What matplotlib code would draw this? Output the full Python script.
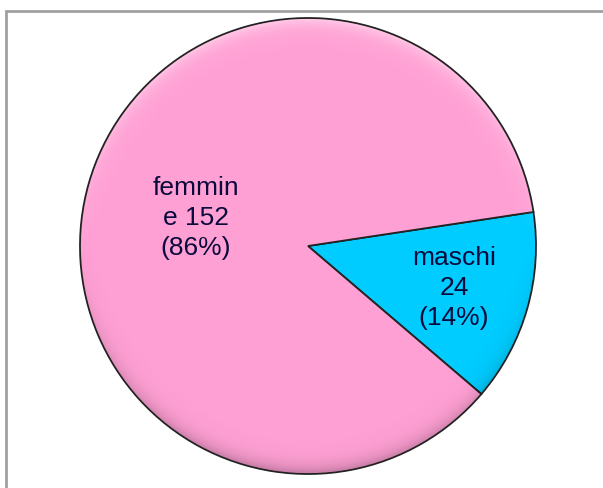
import matplotlib
matplotlib.use("Agg")
import numpy as np
import matplotlib.pyplot as plt
from matplotlib.patches import Rectangle, Circle

# data
labels = ["maschi\n24\n(14%)", "femmin\ne 152\n(86%)"]
values = [24, 152]
colors = ["#00CCFF", "#FFA0D4"]

W, H = 603, 489
fig = plt.figure(figsize=(W / 100, H / 100), dpi=100)
ax = fig.add_axes([0, 0, 1, 1])

# frame around the chart area (cut off at right and bottom)
ax.add_patch(Rectangle((6, -10), W + 20, H - 12 + 10, fill=False,
                       edgecolor="#A0A0A0", linewidth=2))

cx, cy, r = 308, H - 247, 228
wedges, texts = ax.pie(values, colors=colors, startangle=-40.5,
                       center=(cx, cy), radius=r, frame=True,
                       wedgeprops=dict(edgecolor="#222222", linewidth=1.3))

# bevel look: light rim on top, darker rim at the bottom
yy, xx = np.mgrid[cy - r:cy + r:1.0, cx - r:cx + r:1.0]
rho = np.hypot(xx - cx, yy - cy)
s = (yy - cy) / np.maximum(rho, 1)
d = r - rho
rim = np.exp(-np.clip(d, 0, None) / 8.0)
overlay = np.zeros(xx.shape + (4,))
up = np.clip(s, 0, None)
dn = np.clip(-s, 0, None)
overlay[..., :3] = np.where(up[..., None] > 0, 1.0, 0.0)
overlay[..., 3] = rim * (0.55 * up + 0.25 * dn)
im = ax.imshow(overlay, extent=(cx - r, cx + r, cy - r, cy + r),
               origin="lower", interpolation="bilinear", zorder=3)
im.set_clip_path(Circle((cx, cy), r - 1, transform=ax.transData))

ax.set_xlim(0, W)
ax.set_ylim(0, H)
ax.set_aspect("equal")
ax.axis("off")

font = dict(family="Liberation Sans", fontsize=19, color="#0a0a3c",
            ha="center", va="center", linespacing=1.3, zorder=5)
ax.text(454, H - 288, labels[0], **font)
ax.text(196, H - 218, labels[1], **font)

fig.savefig("out.png", dpi=100)
